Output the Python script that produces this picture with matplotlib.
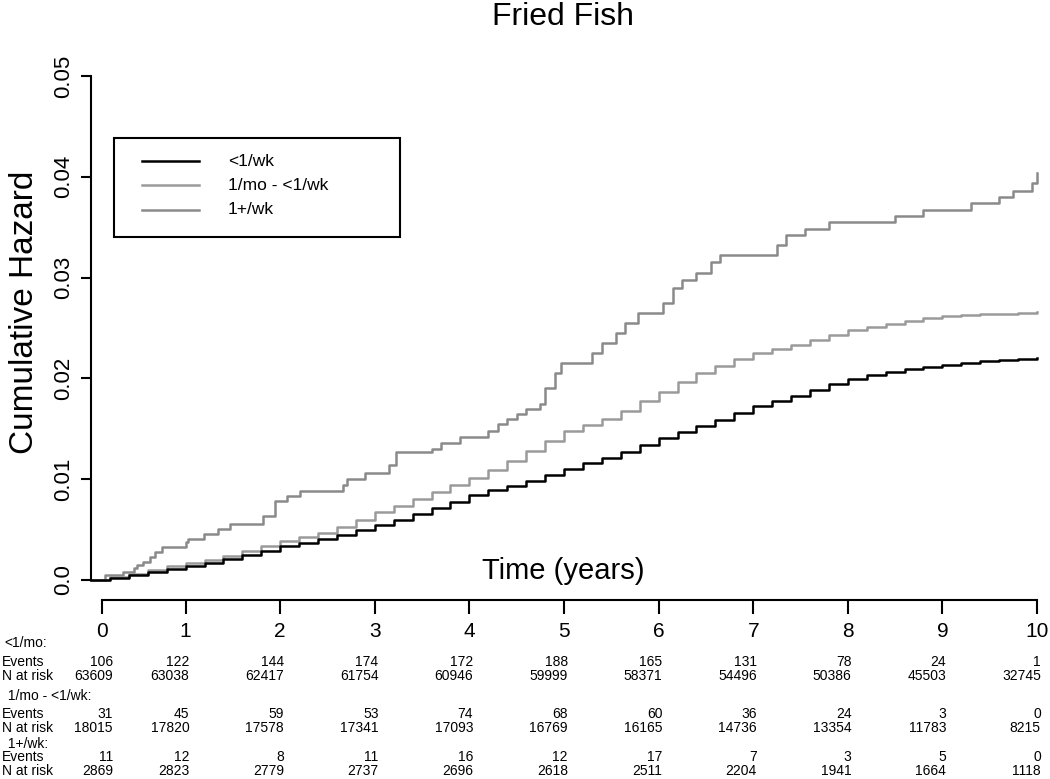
import matplotlib
matplotlib.use("Agg")
import matplotlib.pyplot as plt
import matplotlib.transforms as mtransforms
from matplotlib.lines import Line2D
from matplotlib.patches import Rectangle

plt.rcParams['font.family'] = ['Liberation Sans', 'DejaVu Sans']

# cumulative hazard step curves (time in years, value)
t_low = [0, 0.2, 0.4, 0.6, 0.8, 1.0, 1.2, 1.4, 1.6, 1.8, 2.0, 2.2, 2.4, 2.6, 2.8, 3.0,
         3.2, 3.4, 3.6, 3.8, 4.0, 4.2, 4.4, 4.6, 4.8, 5.0, 5.2, 5.4, 5.6, 5.8, 6.0, 6.2,
         6.4, 6.6, 6.8, 7.0, 7.2, 7.4, 7.6, 7.8, 8.0, 8.2, 8.4, 8.6, 8.8, 9.0, 9.2, 9.4,
         9.6, 9.8, 10]
h_low = [0, 0.0002, 0.0005, 0.0008, 0.0011, 0.0014, 0.0017, 0.0021, 0.0025, 0.0029,
         0.0034, 0.0037, 0.0041, 0.0045, 0.0050, 0.0055, 0.0060, 0.0065, 0.0071, 0.0077,
         0.0084, 0.0089, 0.0093, 0.0098, 0.0104, 0.0110, 0.0116, 0.0121, 0.0127, 0.0134,
         0.0141, 0.0147, 0.0153, 0.0159, 0.0166, 0.0173, 0.0178, 0.0183, 0.0188, 0.0194,
         0.0199, 0.0203, 0.0206, 0.0209, 0.0211, 0.0213, 0.0215, 0.0217, 0.0218, 0.0219,
         0.0220]

t_mid = t_low
h_mid = [0, 0.0003, 0.0006, 0.0010, 0.0014, 0.0017, 0.0020, 0.0024, 0.0029, 0.0034,
         0.0039, 0.0043, 0.0047, 0.0053, 0.0060, 0.0067, 0.0073, 0.0080, 0.0087, 0.0094,
         0.0101, 0.0109, 0.0118, 0.0128, 0.0138, 0.0148, 0.0154, 0.0160, 0.0168, 0.0178,
         0.0187, 0.0196, 0.0205, 0.0212, 0.0219, 0.0225, 0.0229, 0.0233, 0.0238, 0.0243,
         0.0248, 0.0251, 0.0254, 0.0257, 0.0260, 0.0262, 0.0263, 0.0264, 0.0264, 0.0265,
         0.0266]

t_high = [0, 0.15, 0.34, 0.45, 0.49, 0.55, 0.62, 0.68, 0.75, 1.0, 1.03, 1.19, 1.34, 1.47,
          1.82, 1.94, 2.07, 2.21, 2.66, 2.71, 2.9, 3.15, 3.22, 3.6, 3.7, 3.9, 4.2, 4.3,
          4.4, 4.5, 4.6, 4.75, 4.8, 4.9, 4.97, 5.3, 5.4, 5.55, 5.65, 5.78, 6.05, 6.15,
          6.25, 6.4, 6.55, 6.65, 6.75, 7.25, 7.35, 7.55, 7.8, 8.5, 8.8, 9.3, 9.6, 9.75,
          9.95, 10]
h_high = [0, 0.0005, 0.0008, 0.0012, 0.0015, 0.0018, 0.0023, 0.0028, 0.0033, 0.0038,
          0.0041, 0.0046, 0.0051, 0.0056, 0.0063, 0.0078, 0.0083, 0.0088, 0.0094, 0.0100,
          0.0106, 0.0114, 0.0127, 0.0130, 0.0136, 0.0142, 0.0148, 0.0155, 0.0160, 0.0165,
          0.0170, 0.0175, 0.0190, 0.0205, 0.0215, 0.0225, 0.0235, 0.0245, 0.0255, 0.0265,
          0.0275, 0.0290, 0.0298, 0.0305, 0.0315, 0.0322, 0.0322, 0.0332, 0.0342, 0.0348,
          0.0355, 0.0361, 0.0367, 0.0374, 0.0380, 0.0386, 0.0394, 0.0404]

labels = ['<1/wk', '1/mo - <1/wk', '1+/wk']
colors = ['#000000', '#9a9a9a', '#8a8a8a']
widths = [1.8, 1.8, 1.8]

# risk table
years = list(range(11))
tick_labels = [str(y) for y in years]
groups = ['<1/mo:', ' 1/mo - <1/wk:', ' 1+/wk:']
events = [
    [106, 122, 144, 174, 172, 188, 165, 131, 78, 24, 1],
    [31, 45, 59, 53, 74, 68, 60, 36, 24, 3, 0],
    [11, 12, 8, 11, 16, 12, 17, 7, 3, 5, 0],
]
at_risk = [
    [63609, 63038, 62417, 61754, 60946, 59999, 58371, 54496, 50386, 45503, 32745],
    [18015, 17820, 17578, 17341, 17093, 16769, 16165, 14736, 13354, 11783, 8215],
    [2869, 2823, 2779, 2737, 2696, 2618, 2511, 2204, 1941, 1664, 1118],
]

W, H = 1050, 779
fig = plt.figure(figsize=(W / 100, H / 100), dpi=100)


def fx(px):
    return px / W


def fy(py):
    return 1 - py / H


x0, x1 = 91, 1037
ax = fig.add_axes([fx(x0), fy(580), fx(x1 - x0), fy(76) - fy(580)])
ax.set_xlim(0, 10)
ax.set_ylim(0, 0.05)
for t, h, c, w in zip([t_high, t_mid, t_low], [h_high, h_mid, h_low],
                      colors[::-1], widths):
    ax.plot(t, h, drawstyle='steps-post', color=c, lw=w, clip_on=False)

for s in ['top', 'right', 'bottom']:
    ax.spines[s].set_visible(False)
ax.spines['left'].set_linewidth(1.5)
ax.set_xticks([])
ax.set_yticks([0, 0.01, 0.02, 0.03, 0.04, 0.05])
ax.set_yticklabels(['0.0', '0.01', '0.02', '0.03', '0.04', '0.05'], rotation=90, va='center')
ax.tick_params(axis='y', length=7, width=1.5, labelsize=16, pad=5)

# bottom time axis
axb = fig.add_axes([fx(x0), fy(640), fx(x1 - x0), fy(600) - fy(640)])
axb.set_xlim(0, 10)
axb.patch.set_visible(False)
for s in ['top', 'right', 'left']:
    axb.spines[s].set_visible(False)
tick_pos = [0.12] + years[1:]
axb.spines['bottom'].set_bounds(tick_pos[0], tick_pos[-1])
axb.spines['bottom'].set_position(('axes', 1.0))
axb.spines['bottom'].set_linewidth(1.5)
axb.set_yticks([])
axb.set_xticks(tick_pos)
axb.set_xticklabels(tick_labels)
axb.tick_params(axis='x', length=10, width=1.5, labelsize=15, pad=6)

# labels
fig.text(fx(563), fy(25), 'Fried Fish', ha='center', va='baseline', fontsize=23)
fig.text(fx(563), fy(571), 'Time (years)', ha='center', va='center', fontsize=21)
fig.text(fx(25), fy(312), 'Cumulative Hazard', ha='center', va='center',
         rotation=90, fontsize=24)

# legend box
fig.add_artist(Rectangle((fx(114), fy(237)), fx(400 - 114), fy(138) - fy(237),
                         transform=fig.transFigure, fill=False, ec='black', lw=1.5))
for i, (lab, c) in enumerate(zip(labels, colors)):
    yy = fy(161 + i * 24.3)
    fig.add_artist(Line2D([fx(142), fx(199)], [yy, yy], transform=fig.transFigure,
                          color=c, lw=1.8))
    fig.text(fx(228), yy, lab, ha='left', va='center', fontsize=12.5)

# number at risk table (baselines in pixels)
tr = mtransforms.blended_transform_factory(axb.transData, fig.transFigure)
col_x = [0.23] + [y + 0.04 for y in years[1:]]
group_y = [647, 700, 748]
event_y = [666, 718, 761]
risk_y = [680, 732, 775]
fs = 10
for g in range(3):
    fig.text(fx(4), fy(group_y[g]), groups[g], ha='left', va='baseline', fontsize=fs)
    fig.text(fx(2), fy(event_y[g]), 'Events', ha='left', va='baseline', fontsize=fs)
    fig.text(fx(2), fy(risk_y[g]), 'N at risk', ha='left', va='baseline', fontsize=fs)
    for k in range(len(years)):
        ax.text(col_x[k], fy(event_y[g]), str(events[g][k]), transform=tr,
                ha='right', va='baseline', fontsize=fs)
        ax.text(col_x[k], fy(risk_y[g]), str(at_risk[g][k]), transform=tr,
                ha='right', va='baseline', fontsize=fs)

fig.savefig('out.png', dpi=100)
